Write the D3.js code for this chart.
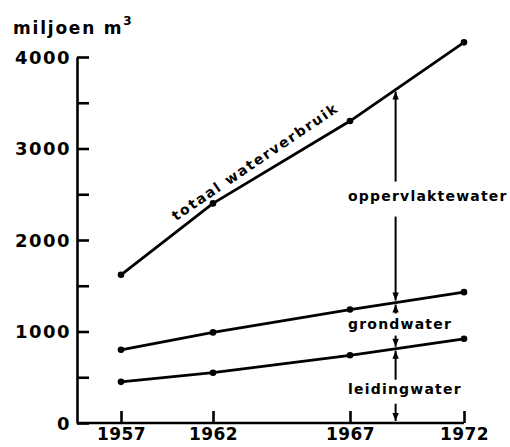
<!DOCTYPE html>
<html>
<head>
<meta charset="utf-8">
<script src="https://cdn.jsdelivr.net/npm/d3@7"></script>
<style>
  html, body { margin: 0; padding: 0; background: #fff; }
  svg { display: block; }
  text { font-family: "DejaVu Sans", sans-serif; font-weight: bold; fill: #000; }
</style>
</head>
<body>
<div id="chart"></div>
<script>
// ---- data ----
const years = [1957, 1962, 1967, 1972];
const yearLabels = ["1957", "1962", "1967", "1972"];
const totaal = [1620, 2400, 3300, 4160];          // totaal waterverbruik
const grondEnLeiding = [800, 990, 1240, 1430];     // grondwater + leidingwater
const leiding = [450, 550, 740, 920];              // leidingwater
const yTickValues = [0, 500, 1000, 1500, 2000, 2500, 3000, 3500, 4000];
const yTickLabels = ["0", "", "1000", "", "2000", "", "3000", "", "4000"];
const unitLabel = "miljoen m";
const annotYear = 1969;

// ---- layout ----
const W = 510, H = 447;
const svg = d3.select("#chart").append("svg").attr("width", W).attr("height", H);

const axisX = 77, y0 = 423, yTop = 57;
const x = d3.scaleLinear().domain(years).range([121, 213, 350, 464]);
const y = d3.scaleLinear().domain([0, 4000]).range([y0, yTop]);

// y axis
const yAxis = d3.axisLeft(y)
  .tickValues(yTickValues)
  .tickFormat((d, i) => yTickLabels[i])
  .tickSizeInner(-12).tickSizeOuter(0).tickPadding(6);
const gy = svg.append("g").attr("transform", `translate(${axisX},0)`).call(yAxis);
gy.select(".domain").attr("stroke", "#000").attr("stroke-width", 2.6);
gy.selectAll(".tick line").attr("stroke", "#000").attr("stroke-width", 2.6);
gy.selectAll(".tick text").style("font-size", "18px").style("letter-spacing", "1.5px")
  .attr("font-family", null).attr("dy", "0.36em");

// x axis
const xAxis = d3.axisBottom(x)
  .tickValues(years)
  .tickFormat((d, i) => yearLabels[i])
  .tickSizeInner(-12).tickSizeOuter(0).tickPadding(4);
const gx = svg.append("g").attr("transform", `translate(0,${y0})`).call(xAxis);
gx.select(".domain").remove();
gx.selectAll(".tick line").attr("stroke", "#000").attr("stroke-width", 2.6);
gx.selectAll(".tick text").style("font-size", "17px").style("letter-spacing", "0.4px")
  .attr("font-family", null).attr("y", 5).attr("dy", "0.71em");
svg.append("line")
  .attr("x1", axisX).attr("x2", x(years[years.length - 1]))
  .attr("y1", y(0)).attr("y2", y(0))
  .attr("stroke", "#000").attr("stroke-width", 2.6);

// unit label
const ul = svg.append("text").attr("x", 13).attr("y", 34)
  .style("font-size", "17px").style("letter-spacing", "1.8px");
ul.append("tspan").text(unitLabel);
ul.append("tspan").attr("dy", -9).style("font-size", "12px").text("3");

// series lines
const series = [totaal, grondEnLeiding, leiding];
const line = d3.line().x((d, i) => x(years[i])).y(d => y(d));
series.forEach(s => {
  svg.append("path").datum(s).attr("d", line)
    .attr("fill", "none").attr("stroke", "#000").attr("stroke-width", 2.8)
    .attr("stroke-linejoin", "round").attr("stroke-linecap", "round");
  svg.selectAll(null).data(s).enter().append("circle")
    .attr("cx", (d, i) => x(years[i])).attr("cy", d => y(d)).attr("r", 3.3).attr("fill", "#000");
});

// interpolate a series at a year
function valAt(s, yr) {
  const i = d3.bisectRight(years, yr) - 1;
  const j = Math.min(i + 1, years.length - 1);
  if (i === j) return s[i];
  const t = (yr - years[i]) / (years[j] - years[i]);
  return s[i] + t * (s[j] - s[i]);
}

// rotated label on total line
{
  const yr = 1960;
  const px = x(yr), py = y(valAt(totaal, yr));
  const ang = Math.atan2(y(totaal[3]) - y(totaal[0]), x(years[3]) - x(years[0])) * 180 / Math.PI;
  svg.append("text")
    .attr("transform", `translate(${px},${py}) rotate(${ang})`)
    .attr("x", 6).attr("y", -9)
    .style("font-size", "14px").style("letter-spacing", "1.7px")
    .text("totaal waterverbruik");
}

// annotation arrows
const ax = x(annotYear);
const yT = y(valAt(totaal, annotYear));
const yG = y(valAt(grondEnLeiding, annotYear));
const yL = y(valAt(leiding, annotYear));
const yZ = y(0);

function seg(ya, yb) {
  svg.append("line").attr("x1", ax).attr("x2", ax).attr("y1", ya).attr("y2", yb)
    .attr("stroke", "#000").attr("stroke-width", 2);
}
function head(tipY, dir) { // dir -1 = pointing up, 1 = pointing down
  const L = 8, w = 3.2;
  svg.append("path")
    .attr("d", `M${ax},${tipY} L${ax - w},${tipY - dir * L} L${ax + w},${tipY - dir * L} Z`)
    .attr("fill", "#000");
}

// oppervlaktewater
seg(yT + 2, yT + 92);
seg(yT + 127, yG - 2);
head(yT + 2, -1); head(yG - 2, 1);
// grondwater
seg(yG + 2, yG + 11);
seg(yG + 33, yL - 2);
head(yG + 2, -1); head(yL - 2, 1);
// leidingwater
seg(yL + 2, yL + 31);
seg(yL + 55, yZ - 2);
head(yL + 2, -1); head(yZ - 2, 1);

const labX = x(1967) - 2;
svg.append("text").attr("x", labX).attr("y", yT + 111)
  .style("font-size", "14px").style("letter-spacing", "1.2px").text("oppervlaktewater");
svg.append("text").attr("x", labX).attr("y", yG + 26)
  .style("font-size", "14px").style("letter-spacing", "1.2px").text("grondwater");
svg.append("text").attr("x", labX).attr("y", yL + 45)
  .style("font-size", "14px").style("letter-spacing", "1.2px").text("leidingwater");
</script>
</body>
</html>
